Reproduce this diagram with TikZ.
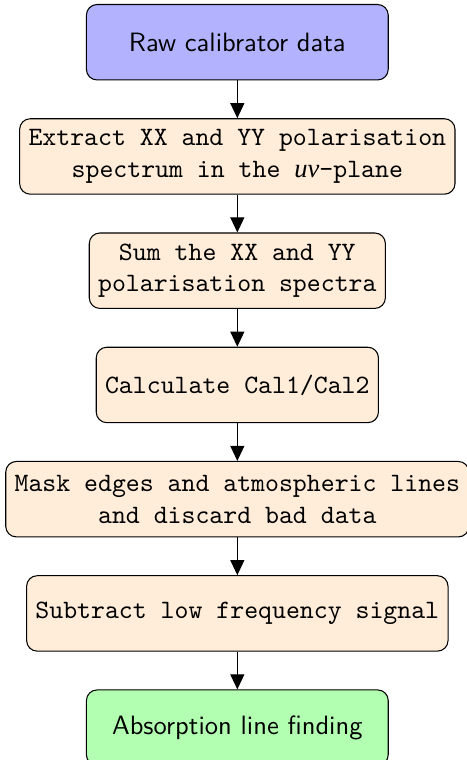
\documentclass[tikz,border=0pt]{standalone}
\usepackage{fontspec}
\newfontfamily\uvfont{Liberation Serif}
\usetikzlibrary{positioning, arrows.meta}

\begin{document}
\begin{tikzpicture}[
    node distance=0.5cm,
    startbox/.style={draw, rounded corners, fill=blue!30, minimum width=4cm, minimum height=1cm, font=\sffamily},
    procbox/.style={draw, rounded corners, fill=orange!15, minimum height=1cm, align=center, font=\ttfamily},
    endbox/.style={draw, rounded corners, fill=green!30, minimum width=4cm, minimum height=1cm, font=\sffamily},
    flow/.style={-{Triangle[width=5.3pt, length=5.7pt]}}
]
    % Fix the margins
    \useasboundingbox (-89.5pt,-285.1pt) rectangle (86.3pt,1.5pt);

    % Create the steps of the pipeline
    \node[startbox, anchor=north] (raw) at (0,0) {Raw calibrator data};
    \node[procbox, below=of raw] (extract) {Extract XX and YY polarisation\\spectrum in the {\uvfont\itshape uv}-plane};
    \node[procbox, below=of extract] (sum) {Sum the XX and YY\\polarisation spectra};
    \node[procbox, below=of sum] (ratio) {Calculate Cal1/Cal2};
    \node[procbox, below=of ratio] (mask) {Mask edges and atmospheric lines\\and discard bad data};
    \node[procbox, below=of mask] (subtract) {Subtract low frequency signal};
    \node[endbox, below=of subtract] (find) {Absorption line finding};

    % Draw arrows
    \draw[flow] (raw) -- (extract);
    \draw[flow] (extract) -- (sum);
    \draw[flow] (sum) -- (ratio);
    \draw[flow] (ratio) -- (mask);
    \draw[flow] (mask) -- (subtract);
    \draw[flow] (subtract) -- (find);
\end{tikzpicture}
\end{document}
